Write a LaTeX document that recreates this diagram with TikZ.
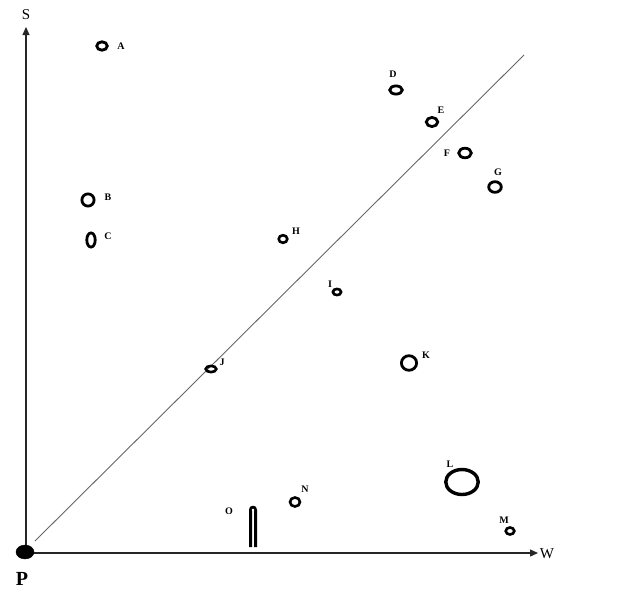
\documentclass[tikz,border=0pt]{standalone}
\usepackage{fontspec}
\setmainfont{Liberation Serif}
\usetikzlibrary{arrows.meta,shapes.geometric}
\begin{document}
\begin{tikzpicture}[x=1pt,y=-1pt,
  ring/.style={draw=black,ellipse,line width=2.8pt,inner sep=0pt},
  sring/.style={ring,line width=2.6pt},
  lab/.style={font=\bfseries\fontsize{10}{10}\selectfont,inner sep=0pt},
  axislab/.style={font=\fontsize{15}{15}\selectfont,inner sep=0pt},
  axis/.style={line width=1.2pt,black!85,-{Triangle[length=8pt,width=7pt]}},
  diag/.style={line width=0.9pt,black!60}]
\useasboundingbox (0,0) rectangle (618,597);
% origin and axes
\coordinate (O0) at (26,553);
\coordinate (Stip) at (26,27);
\coordinate (Wtip) at (538,553);
\draw[axis] (O0) -- (Stip);
\draw[axis] (O0) -- (Wtip);
\node[draw=black,fill=black,ellipse,minimum width=18pt,minimum height=14pt,inner sep=0pt] (P) at (25,552) {};
\node[font=\bfseries\fontsize{20}{20}\selectfont,inner sep=0pt] (Plab) at (22,579) {P};
\node[axislab] (Slab) at (26,15) {S};
\node[axislab] (Wlab) at (547,554) {W};
% diagonal
\coordinate (d1) at (35,541);
\coordinate (d2) at (524,55);
\draw[diag] (d1) -- (d2);
% points
\node[ring,minimum width=10.6pt,minimum height=8.4pt] (A) at (102,46) {};
\node[lab] (Alab) at (121,46) {A};
\node[ring,minimum width=12.2pt,minimum height=12.2pt] (B) at (88,200) {};
\node[ring,minimum width=8.4pt,minimum height=14.2pt] (C) at (91,240) {};
\node[lab] (Blab) at (108,197) {B};
\node[lab] (Clab) at (108,236) {C};
\node[ring,minimum width=12.6pt,minimum height=8.2pt] (D) at (396,90) {};
\node[lab] (Dlab) at (393,74) {D};
\node[ring,minimum width=11.4pt,minimum height=9.2pt] (E) at (432,122) {};
\node[lab] (Elab) at (441,110) {E};
\node[ring,minimum width=12.6pt,minimum height=9.6pt] (F) at (465,153) {};
\node[lab] (Flab) at (447,153) {F};
\node[ring,minimum width=12.6pt,minimum height=10.6pt] (G) at (495,187) {};
\node[lab] (Glab) at (498,172) {G};
\node[sring,minimum width=8.6pt,minimum height=7.6pt] (H) at (283,239) {};
\node[lab] (Hlab) at (296,231) {H};
\node[sring,minimum width=8.2pt,minimum height=6.2pt] (I) at (337,292) {};
\node[lab] (Ilab) at (330,284) {I};
\node[sring,minimum width=10.6pt,minimum height=6.2pt] (J) at (211,369) {};
\node[lab] (Jlab) at (222,362) {J};
\node[ring,minimum width=15.2pt,minimum height=14.6pt] (K) at (409,363) {};
\node[lab] (Klab) at (426,355) {K};
\node[ring,line width=3.4pt,minimum width=32.5pt,minimum height=25pt] (L) at (462,482) {};
\node[lab] (Llab) at (450,464) {L};
\node[sring,minimum width=8.6pt,minimum height=7pt] (M) at (510,531) {};
\node[lab] (Mlab) at (504,520) {M};
\node[sring,minimum width=10pt,minimum height=9pt] (N) at (295,502) {};
\node[lab] (Nlab) at (305,489) {N};
% O shape
\draw[line width=3pt,line join=round] (250.5,547) -- (250.5,510)
   .. controls (250.5,506.2) and (255.5,506.2) .. (255.5,510) -- (255.5,547);
\fill[white] (253,510) circle[radius=1.4pt];
\node[lab] (Olab) at (229,511) {O};
\end{tikzpicture}
\end{document}
